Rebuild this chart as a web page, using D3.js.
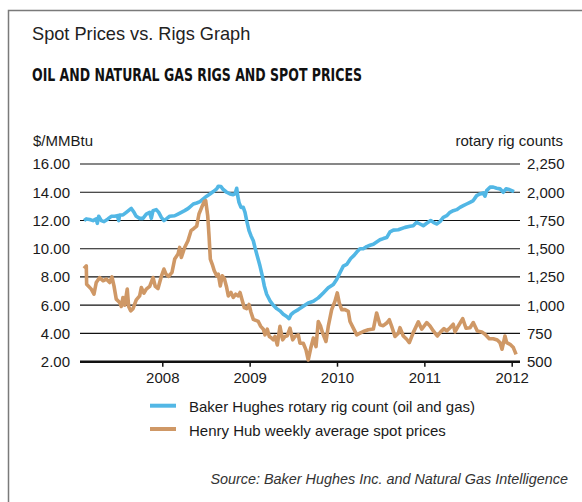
<!DOCTYPE html>
<html><head><meta charset="utf-8">
<script src="https://cdn.jsdelivr.net/npm/d3@7"></script>
<style>
html,body{margin:0;padding:0;background:#fff;}
svg{display:block;}
text{font-family:"Liberation Sans",Arial,Helvetica,sans-serif;fill:#1a1a1a;}
</style></head>
<body>
<script>
const title = "Spot Prices vs. Rigs Graph";
const subtitle = "OIL AND NATURAL GAS RIGS AND SPOT PRICES";
const leftUnit = "$/MMBtu";
const rightUnit = "rotary rig counts";
const source = "Source: Baker Hughes Inc. and Natural Gas Intelligence";
const seriesNames = ["Baker Hughes rotary rig count (oil and gas)", "Henry Hub weekly average spot prices"];
const yearTicks = [2008, 2009, 2010, 2011, 2012];
const priceTicks = [2, 4, 6, 8, 10, 12, 14, 16];
const rigTicks = [500, 750, 1000, 1250, 1500, 1750, 2000, 2250];

const gasYears = [2007.104,2007.130,2007.134,2007.187,2007.218,2007.244,2007.283,2007.321,2007.359,2007.398,2007.424,2007.447,2007.473,2007.512,2007.531,2007.550,2007.569,2007.599,2007.615,2007.638,2007.665,2007.702,2007.741,2007.760,2007.790,2007.817,2007.856,2007.894,2007.920,2007.951,2007.989,2008.019,2008.042,2008.073,2008.111,2008.142,2008.180,2008.199,2008.218,2008.256,2008.294,2008.329,2008.355,2008.394,2008.420,2008.451,2008.481,2008.497,2008.520,2008.535,2008.550,2008.572,2008.595,2008.623,2008.641,2008.664,2008.687,2008.710,2008.737,2008.756,2008.786,2008.813,2008.840,2008.870,2008.890,2008.916,2008.939,2008.966,2008.993,2009.015,2009.042,2009.099,2009.127,2009.157,2009.176,2009.202,2009.225,2009.252,2009.271,2009.290,2009.317,2009.347,2009.378,2009.405,2009.431,2009.462,2009.493,2009.519,2009.557,2009.576,2009.614,2009.645,2009.671,2009.699,2009.729,2009.760,2009.786,2009.813,2009.836,2009.874,2009.900,2009.939,2009.977,2010.003,2010.026,2010.054,2010.092,2010.129,2010.149,2010.187,2010.226,2010.263,2010.301,2010.358,2010.416,2010.454,2010.492,2010.530,2010.569,2010.599,2010.626,2010.664,2010.702,2010.721,2010.759,2010.798,2010.828,2010.873,2010.931,2010.970,2011.027,2011.065,2011.103,2011.148,2011.187,2011.225,2011.256,2011.294,2011.331,2011.351,2011.389,2011.439,2011.477,2011.523,2011.560,2011.606,2011.657,2011.694,2011.743,2011.789,2011.835,2011.866,2011.889,2011.923,2011.943,2011.981,2012.019,2012.050];
const gasPrices = [8.60,8.79,7.49,7.14,6.78,7.61,7.96,7.73,7.85,7.61,8.01,7.37,6.43,6.19,5.91,6.55,6.00,7.14,5.91,5.60,5.76,6.38,6.66,7.25,6.85,7.14,7.33,7.96,7.33,7.18,8.04,8.56,8.20,8.04,8.32,9.27,9.62,10.09,9.38,10.09,10.57,11.28,11.40,11.60,12.46,12.93,13.34,13.40,12.34,10.92,9.27,8.90,8.44,8.08,8.20,7.37,8.08,7.90,7.25,6.66,6.90,6.55,6.78,6.66,6.90,6.31,5.83,5.75,6.05,5.50,5.00,4.85,4.50,4.30,3.90,4.30,3.79,3.67,3.55,3.79,3.19,4.50,3.55,3.79,3.84,4.38,3.55,3.79,3.90,3.31,3.31,2.84,2.12,2.95,3.67,3.07,4.85,4.50,4.02,3.43,4.50,5.69,6.28,6.87,6.16,5.69,5.69,5.57,4.85,4.38,3.90,4.02,4.14,4.26,4.31,5.45,4.62,4.55,4.74,4.97,4.50,3.79,4.02,4.41,3.82,3.59,3.35,4.06,4.82,4.30,4.77,4.53,4.18,3.82,4.11,4.34,4.18,4.41,4.65,4.11,4.53,5.05,4.37,4.41,4.77,4.18,4.11,3.94,3.63,3.63,3.54,3.35,2.88,3.82,3.35,3.23,3.00,2.52];

const rigYears = [2007.104,2007.130,2007.169,2007.207,2007.244,2007.256,2007.272,2007.302,2007.333,2007.378,2007.416,2007.455,2007.485,2007.501,2007.512,2007.550,2007.588,2007.627,2007.645,2007.676,2007.702,2007.741,2007.779,2007.817,2007.856,2007.874,2007.894,2007.931,2007.959,2007.989,2008.019,2008.046,2008.085,2008.142,2008.180,2008.218,2008.256,2008.298,2008.355,2008.394,2008.432,2008.469,2008.508,2008.546,2008.584,2008.623,2008.641,2008.672,2008.698,2008.737,2008.775,2008.813,2008.832,2008.852,2008.863,2008.878,2008.901,2008.927,2008.947,2008.966,2008.993,2009.015,2009.042,2009.061,2009.092,2009.118,2009.145,2009.168,2009.195,2009.233,2009.271,2009.310,2009.347,2009.385,2009.424,2009.451,2009.473,2009.500,2009.557,2009.614,2009.671,2009.729,2009.786,2009.843,2009.900,2009.958,2009.996,2010.034,2010.072,2010.111,2010.157,2010.195,2010.226,2010.263,2010.301,2010.340,2010.378,2010.416,2010.454,2010.492,2010.530,2010.569,2010.607,2010.645,2010.702,2010.779,2010.836,2010.873,2010.912,2010.950,2010.988,2011.027,2011.073,2011.103,2011.141,2011.179,2011.217,2011.256,2011.294,2011.331,2011.370,2011.408,2011.446,2011.484,2011.523,2011.560,2011.599,2011.637,2011.675,2011.694,2011.714,2011.752,2011.789,2011.828,2011.866,2011.904,2011.935,2011.973,2012.027];
const rigCounts = [1749,1764,1758,1749,1764,1725,1787,1749,1740,1764,1787,1787,1793,1749,1799,1799,1822,1846,1857,1822,1787,1769,1769,1807,1822,1769,1837,1846,1822,1777,1749,1764,1787,1792,1807,1822,1837,1857,1896,1905,1917,1941,1965,1985,2006,2030,2053,2050,2024,2000,1985,1979,1985,2035,1970,1911,1866,1866,1822,1749,1660,1615,1571,1511,1422,1349,1260,1171,1097,1039,1000,970,950,920,900,881,916,935,961,990,1020,1035,1065,1109,1154,1184,1228,1288,1346,1361,1413,1441,1471,1500,1500,1519,1531,1540,1560,1579,1590,1599,1650,1665,1668,1689,1699,1704,1734,1719,1704,1725,1749,1734,1719,1740,1778,1792,1822,1837,1846,1866,1881,1896,1911,1926,1970,1985,1994,1965,2015,2045,2045,2035,2030,2000,2030,2024,2006];

const W = 582, H = 502;
const blue = "#52b7e5", brown = "#cf9866";
const svg = d3.select("body").append("svg").attr("width", W).attr("height", H);

// frame
svg.append("path").attr("d", "M8.5,502 V10.5 H582").attr("fill", "none").attr("stroke", "#7a7a7a").attr("stroke-width", 1.5);

svg.append("text").attr("x", 32).attr("y", 40).style("font-size", "18.2px").style("fill", "#222").text(title);
svg.append("text").attr("x", 32).attr("y", 81)
  .style("font-family", "'Liberation Sans Narrow','DejaVu Sans Condensed',sans-serif")
  .style("font-weight", "bold").style("font-size", "17.5px").style("fill", "#111")
  .attr("textLength", 330).attr("lengthAdjust", "spacingAndGlyphs")
  .text(subtitle);

const x = d3.scaleLinear().domain([2007.058, 2012.095]).range([80, 520]);
const yP = d3.scaleLinear().domain([2, 16]).range([361.7, 164]);
const yR = d3.scaleLinear().domain([500, 2250]).range([361.7, 164]);

// grid
svg.append("g").selectAll("line").data(priceTicks.filter(d => d > 2)).join("line")
  .attr("x1", 80).attr("x2", 520).attr("y1", d => yP(d)).attr("y2", d => yP(d))
  .attr("stroke", "#111").attr("stroke-width", 1.2);

// left axis labels
const gl = svg.append("g").attr("transform", "translate(70,0)")
  .call(d3.axisLeft(yP).tickValues(priceTicks).tickSize(0).tickPadding(0).tickFormat(d3.format(".2f")));
gl.select(".domain").remove();
gl.selectAll("text").style("font-size", "15px").style("font-family", "'Liberation Sans',Arial,sans-serif").attr("fill", "#1a1a1a");

const gr = svg.append("g").attr("transform", "translate(527,0)")
  .call(d3.axisRight(yR).tickValues(rigTicks).tickSize(0).tickPadding(0).tickFormat(d3.format(",")));
gr.select(".domain").remove();
gr.selectAll("text").style("font-size", "15px").style("font-family", "'Liberation Sans',Arial,sans-serif").attr("fill", "#1a1a1a");

// bottom axis
const gb = svg.append("g").attr("transform", "translate(0,361.7)")
  .call(d3.axisBottom(x).tickValues(yearTicks).tickSize(5).tickPadding(6).tickFormat(d3.format("d")));
gb.select(".domain").remove();
gb.selectAll("line").attr("stroke", "#111").attr("stroke-width", 1.5);
gb.selectAll("text").style("font-size", "15px").style("font-family", "'Liberation Sans',Arial,sans-serif").attr("fill", "#1a1a1a");
svg.append("line").attr("x1", 80).attr("x2", 520).attr("y1", 361.7).attr("y2", 361.7).attr("stroke", "#111").attr("stroke-width", 2.5);

svg.append("text").attr("x", 33).attr("y", 146).style("font-size", "15px").text(leftUnit);
svg.append("text").attr("x", 563).attr("y", 146).attr("text-anchor", "end").style("font-size", "15px").text(rightUnit);

// lines
const rigLine = d3.line().x((d, i) => x(rigYears[i])).y(d => yR(d));
const gasLine = d3.line().x((d, i) => x(gasYears[i])).y(d => yP(d));
svg.append("path").datum(rigCounts).attr("d", rigLine).attr("fill", "none").attr("stroke", blue).attr("stroke-width", 3.6).attr("stroke-linejoin", "round");
svg.append("path").datum(gasPrices).attr("d", gasLine).attr("fill", "none").attr("stroke", brown).attr("stroke-width", 3.6).attr("stroke-linejoin", "round");

// legend
const lg = svg.append("g");
[[blue, 405.7, 412], [brown, 429, 435.5]].forEach((c, i) => {
  lg.append("line").attr("x1", 150).attr("x2", 176).attr("y1", c[1]).attr("y2", c[1]).attr("stroke", c[0]).attr("stroke-width", 4);
  lg.append("text").attr("x", 189).attr("y", c[2]).style("font-size", "15px").text(seriesNames[i]);
});

svg.append("text").attr("x", 568).attr("y", 484).attr("text-anchor", "end")
  .style("font-size", "14.4px").style("font-style", "italic").style("fill", "#333").text(source);
</script>
</body></html>
